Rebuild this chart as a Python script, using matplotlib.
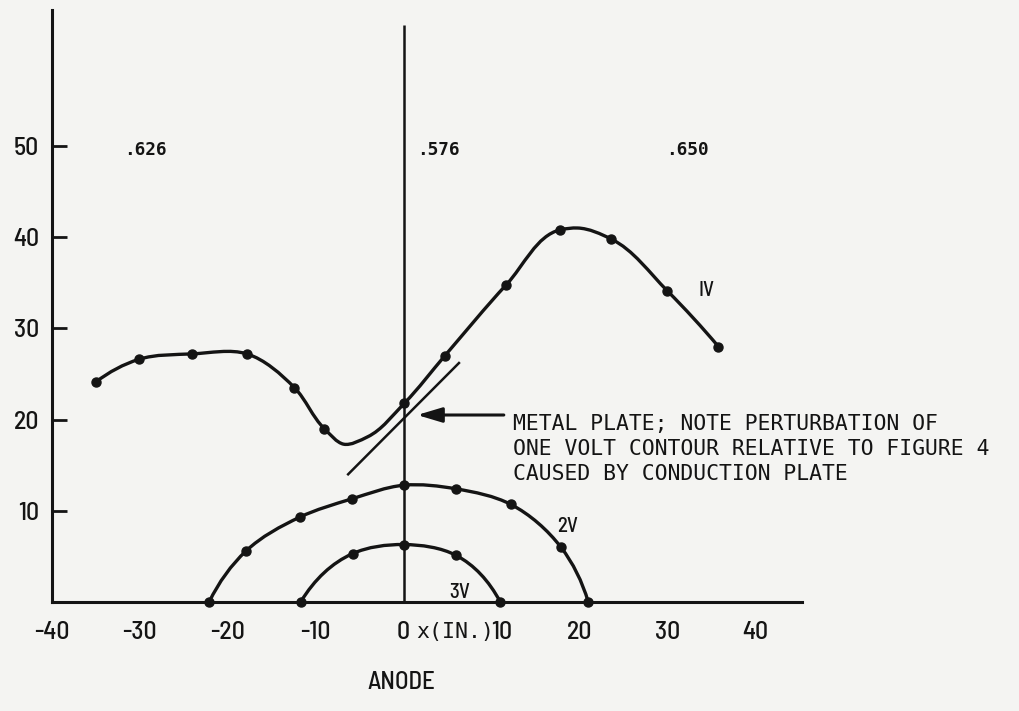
import numpy as np
import matplotlib
matplotlib.use("Agg")
import matplotlib.pyplot as plt
from matplotlib.path import Path
from matplotlib.patches import PathPatch

# ---------------- data ----------------
# 1 V contour: knots along the drawn curve; v1_dot marks the plotted measurement dots
v1_x = [-35.0, -30.1, -24.0, -17.8, -12.4, -9.0, -6.8, -4.1, 0.1, 4.7, 11.7, 17.8, 19.8, 23.6, 30.0, 35.8]
v1_y = [24.1, 26.6, 27.2, 27.2, 23.5, 19.0, 17.3, 18.1, 21.8, 27.0, 34.8, 40.8, 41.0, 39.8, 34.1, 28.0]
v1_dot = [1, 1, 1, 1, 1, 1, 0, 0, 1, 1, 1, 1, 0, 1, 1, 1]

v2_x = [-22.1, -17.9, -11.8, -5.9, 0.0, 6.0, 12.2, 17.9, 21.0]
v2_y = [0.0, 5.6, 9.3, 11.3, 12.8, 12.4, 10.7, 6.0, 0.0]

v3_x = [-11.7, -5.8, 0.0, 6.0, 11.0]
v3_y = [0.0, 5.3, 6.3, 5.1, 0.0]

plate_x = [-6.3, 6.3]
plate_y = [14.0, 26.2]

x_ticks = [-40, -30, -20, -10, 0, 10, 20, 30, 40]
x_marks = [-30, -20, -10, 30, 40]
y_ticks = [10, 20, 30, 40, 50]

region_vals = [".626", ".576", ".650"]
contour_names = ["IV", "2V", "3V"]

# ---------------- helpers ----------------
def smooth_path(xs, ys):
    """Smooth curve through the given knots (chord-length cubic Hermite -> Bezier)."""
    P = np.column_stack([xs, ys]).astype(float)
    n = len(P)
    d = np.linalg.norm(np.diff(P, axis=0), axis=1)
    d[d == 0] = 1e-6
    m = np.zeros_like(P)
    for i in range(1, n - 1):
        s0 = (P[i] - P[i - 1]) / d[i - 1]
        s1 = (P[i + 1] - P[i]) / d[i]
        m[i] = (s0 * d[i] + s1 * d[i - 1]) / (d[i - 1] + d[i])
    m[0] = 2 * (P[1] - P[0]) / d[0] - m[1]
    m[-1] = 2 * (P[-1] - P[-2]) / d[-1] - m[-2]
    verts = [P[0]]
    codes = [Path.MOVETO]
    for i in range(n - 1):
        verts += [P[i] + m[i] * d[i] / 3, P[i + 1] - m[i + 1] * d[i] / 3, P[i + 1]]
        codes += [Path.CURVE4] * 3
    return Path(verts, codes)

# ---------------- figure ----------------
INK = "#141414"
BG = "#f4f4f2"
mono = "DejaVu Sans Mono"
cond = ["Barlow Semi Condensed", "DejaVu Sans"]

fig = plt.figure(figsize=(10.19, 7.11), dpi=100, facecolor=BG)
ax = fig.add_axes([51.7 / 1019, 109 / 711, 750.3 / 1019, 592 / 711])
ax.set_facecolor(BG)
ax.set_xlim(-40, 45.3)
ax.set_ylim(0, 64.9)

for s in ["top", "right"]:
    ax.spines[s].set_visible(False)
for s in ["left", "bottom"]:
    ax.spines[s].set_linewidth(2.2)
    ax.spines[s].set_color(INK)

# ticks
ax.set_yticks(y_ticks, [str(v) for v in y_ticks])
ax.tick_params(axis="y", direction="in", length=11, width=2.0, pad=9, colors=INK,
               labelsize=18.5)
ax.set_xticks(x_ticks, [str(v) for v in x_ticks])
ax.set_xticks(x_marks, minor=True)
ax.tick_params(axis="x", which="major", length=0, pad=14, colors=INK, labelsize=18.5)
ax.tick_params(axis="x", which="minor", direction="in", length=8, width=1.6, colors=INK)
for lab in ax.get_xticklabels() + ax.get_yticklabels():
    lab.set_family(cond)
    lab.set_weight("medium")
ax.xaxis.get_major_ticks()[5].label1.set_ha("left")

# central vertical line
ax.plot([0, 0], [0, 63.3], color=INK, lw=1.8, solid_capstyle="butt")

# contours
for xs, ys in [(v1_x, v1_y), (v2_x, v2_y), (v3_x, v3_y)]:
    ax.add_patch(PathPatch(smooth_path(xs, ys), fill=False, lw=2.4, ec=INK,
                           capstyle="round", joinstyle="round"))

dx = [x for x, k in zip(v1_x, v1_dot) if k]
dy = [y for y, k in zip(v1_y, v1_dot) if k]
ax.plot(dx, dy, "o", color=INK, ms=6.5, clip_on=False)
ax.plot(v2_x, v2_y, "o", color=INK, ms=6.5, clip_on=False)
ax.plot(v3_x, v3_y, "o", color=INK, ms=6.5, clip_on=False)

# metal plate
ax.plot(plate_x, plate_y, color=INK, lw=1.8)

# arrow + note
ax.annotate("", xy=(1.55, 20.5), xytext=(11.4, 20.5),
            arrowprops=dict(arrowstyle="-|>,head_length=1.0,head_width=0.3",
                            mutation_scale=15, lw=2.2, color=INK, shrinkA=0, shrinkB=0))
note = ["METAL PLATE; NOTE PERTURBATION OF",
        "ONE VOLT CONTOUR RELATIVE TO FIGURE 4",
        "CAUSED BY CONDUCTION PLATE"]
for line, yv in zip(note, [18.86, 16.12, 13.38]):
    ax.text(12.5, yv, line, family=mono, fontsize=15.4, color=INK, va="baseline", ha="left")

# region values
for lbl, xv in zip(region_vals, [-31.8, 1.6, 29.8]):
    ax.text(xv, 49.5, lbl, family=mono, fontsize=12.8, fontweight="bold", color=INK,
            va="center", ha="left")

# contour labels
for lbl, xv, yv in zip(contour_names, [33.5, 17.5, 5.2], [34.1, 8.3, 1.0]):
    ax.text(xv, yv, lbl, family=cond, fontsize=15, weight="medium", color=INK,
            va="center", ha="left")

# axis labels
ax.text(1.4, -3.3, "x(IN.)", family=mono, fontsize=15.5, color=INK, va="center", ha="left",
        clip_on=False)
ax.text(-0.3, -8.8, "ANODE", family=cond, fontsize=18, weight="medium", color=INK,
        va="center", ha="center", clip_on=False)

fig.savefig("out.png", dpi=100, facecolor=BG)
